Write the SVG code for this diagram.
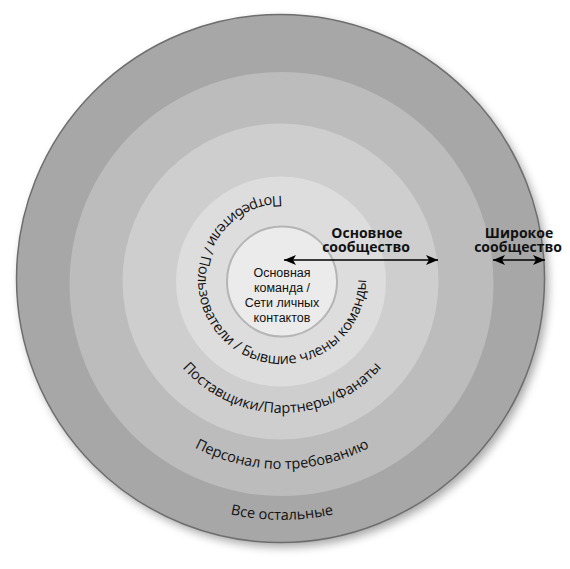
<svg xmlns="http://www.w3.org/2000/svg" width="570" height="569" viewBox="0 0 570 569">
<style>
.lbl{font-family:"Open Sans","Noto Sans","DejaVu Sans",sans-serif;fill:#111;}
.core{font-family:"Liberation Sans",Arial,sans-serif;font-size:12.5px;text-anchor:middle;}
.ring{font-size:14.5px;}
.bold{font-size:14px;font-weight:bold;text-anchor:middle;}
.conn{stroke:#000;stroke-width:1.6;fill:none;}
</style>
<defs>
<filter id="sh" x="-20%" y="-20%" width="140%" height="140%"><feGaussianBlur stdDeviation="5"/></filter>
<marker id="ah" viewBox="0 0 12 10" refX="12" refY="5" markerWidth="12" markerHeight="10" markerUnits="userSpaceOnUse" orient="auto-start-reverse">
<path d="M0,0 L12,5 L0,10 L3,5 Z" fill="#000"/>
</marker>
<path id="p1" d="M 282 196 A 84 84 0 0 0 198 280 A 84 84 0 0 0 282 364 A 84 84 0 0 0 366 280 A 84 84 0 0 0 282 196"/>
<path id="p2" d="M 150 281 A 132 132 0 0 0 414 281"/>
<path id="p3" d="M 94 281 A 188 188 0 0 0 470 281"/>
<path id="p4" d="M 43 281 A 239 239 0 0 0 521 281"/>
</defs>
<circle cx="284" cy="283" r="264" fill="#000" opacity="0.35" filter="url(#sh)"/>
<g id="ring-all">
<circle cx="280.5" cy="278.5" r="264" fill="#a7a7a7" stroke="#6e6e6e" stroke-width="1.5"/>
<text class="lbl ring"><textPath href="#p4" startOffset="50%" text-anchor="middle">Все остальные</textPath></text>
</g>
<g id="ring-ondemand">
<circle cx="281.5" cy="284" r="212" fill="#bcbcbc"/>
<text class="lbl ring"><textPath href="#p3" startOffset="50%" text-anchor="middle">Персонал по требованию</textPath></text>
</g>
<g id="ring-suppliers">
<circle cx="280.5" cy="281.5" r="158" fill="#cecece"/>
<text class="lbl ring"><textPath href="#p2" startOffset="50%" text-anchor="middle">Поставщики/Партнеры/Фанаты</textPath></text>
</g>
<g id="ring-users">
<circle cx="281" cy="281.5" r="105" fill="#dddddd"/>
<text class="lbl ring"><textPath href="#p1" startOffset="0">Потребители / Пользователи / Бывшие члены команды</textPath></text>
</g>
<g id="core">
<circle cx="282" cy="281.5" r="55" fill="#ebebeb" stroke="#b5b5b5" stroke-width="2"/>
<text class="lbl core" x="282" y="277">Основная</text>
<text class="lbl core" x="282" y="292">команда /</text>
<text class="lbl core" x="282" y="307">Сети личных</text>
<text class="lbl core" x="282" y="322">контактов</text>
</g>
<g id="core-community">
<text class="lbl bold" x="367" y="238">Основное</text>
<text class="lbl bold" x="366" y="252">сообщество</text>
</g>
<g id="wide-community">
<text class="lbl bold" x="519" y="238">Широкое</text>
<text class="lbl bold" x="518" y="252">сообщество</text>
</g>
<g id="connectors">
<line class="conn" x1="284" y1="260" x2="438" y2="260" marker-start="url(#ah)" marker-end="url(#ah)"/>
<line class="conn" x1="493" y1="260" x2="545" y2="260" marker-start="url(#ah)" marker-end="url(#ah)"/>
</g>
</svg>
